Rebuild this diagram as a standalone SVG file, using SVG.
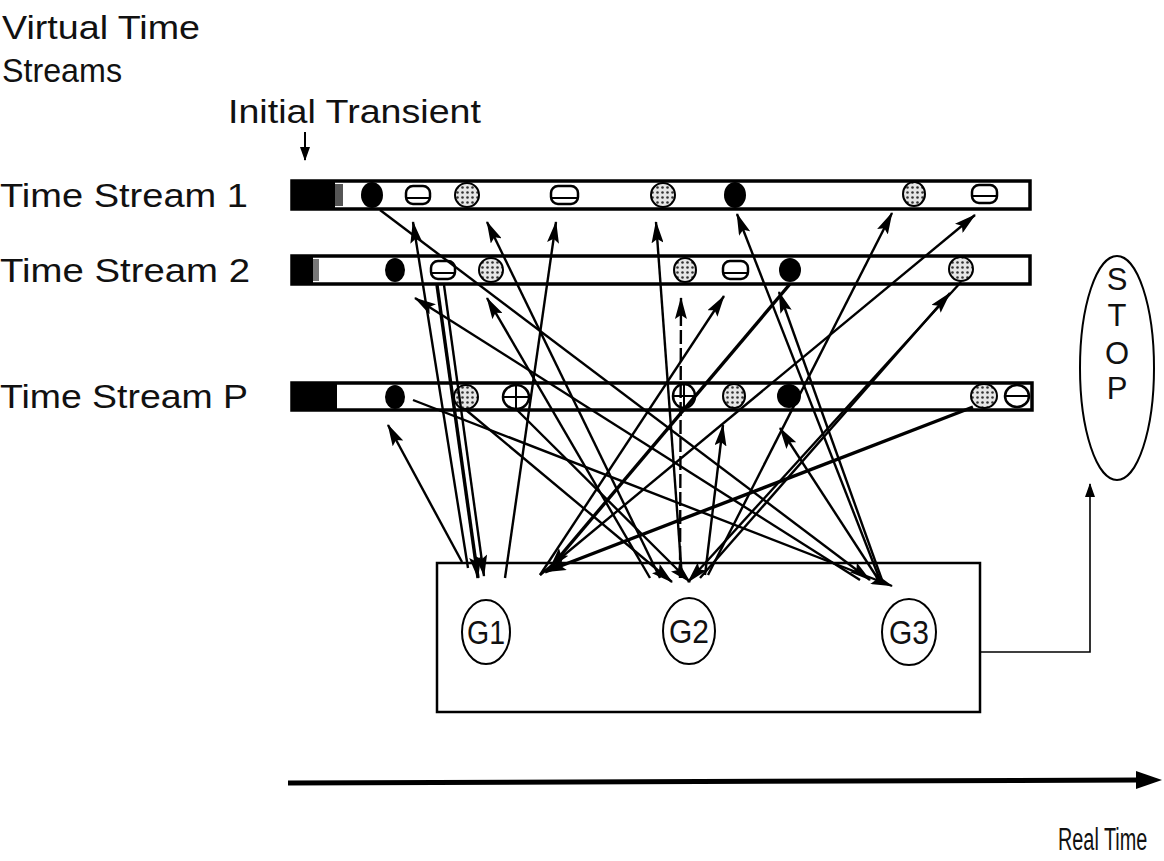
<svg xmlns="http://www.w3.org/2000/svg" width="1164" height="861" viewBox="0 0 1164 861">
<style>
text{font-family:"Liberation Sans",Arial,sans-serif;fill:#111}
.lbl{font-size:33px}
.bar{fill:#fff;stroke:#000;stroke-width:3.5}
.blk{fill:#000}
.hat{fill:#fff;stroke:#000;stroke-width:2.5}
.dot{fill:url(#dots);stroke:#000;stroke-width:2}
.c{fill:none;stroke:#000;stroke-width:2.4;marker-end:url(#ah)}
.ct{fill:none;stroke:#000;stroke-width:3.4;marker-end:url(#ah)}
.thin{fill:none;stroke:#000;stroke-width:1.6}
.node{fill:#fff;stroke:#000;stroke-width:2}
</style>
<defs>
<marker id="ah" markerUnits="userSpaceOnUse" markerWidth="22" markerHeight="12" refX="21" refY="6" orient="auto">
<path d="M0,0 L22,6 L0,12 L4,6 z" fill="#000"/>
</marker>
<marker id="ahs" markerUnits="userSpaceOnUse" markerWidth="14" markerHeight="10" refX="13" refY="5" orient="auto">
<path d="M0,0 L14,5 L0,10 z" fill="#000"/>
</marker>
<pattern id="dots" width="5" height="5" patternUnits="userSpaceOnUse">
<rect width="5" height="5" fill="#e6e6e6"/>
<circle cx="2.5" cy="2.5" r="1.3" fill="#333"/>
</pattern>
</defs>
<rect width="1164" height="861" fill="#fff"/>

<g id="titles">
<text class="lbl" x="2" y="39" font-size="34" textLength="198" lengthAdjust="spacingAndGlyphs">Virtual Time</text>
<text class="lbl" x="2" y="82" font-size="34" textLength="120" lengthAdjust="spacingAndGlyphs">Streams</text>
<text class="lbl" x="228" y="123" font-size="32" textLength="253" lengthAdjust="spacingAndGlyphs">Initial Transient</text>
<line x1="305" y1="132" x2="305" y2="160" stroke="#000" stroke-width="2" marker-end="url(#ahs)"/>
</g>

<g id="stream1">
<text class="lbl" x="0" y="207" textLength="248" lengthAdjust="spacingAndGlyphs">Time Stream 1</text>
<rect class="bar" x="292" y="181" width="738" height="28"/>
<rect class="blk" x="293" y="181" width="42" height="28"/>
<rect x="335" y="184" width="8" height="22" fill="#555"/>
<ellipse class="blk" cx="372" cy="195" rx="11" ry="13"/>
<rect class="hat" x="406" y="186" width="24" height="18" rx="7"/><line x1="407" y1="198" x2="429" y2="198" stroke="#000" stroke-width="2"/>
<ellipse class="dot" cx="467" cy="195" rx="12" ry="12"/>
<rect class="hat" x="551" y="186" width="27" height="18" rx="7"/><line x1="552" y1="198" x2="577" y2="198" stroke="#000" stroke-width="2"/>
<ellipse class="dot" cx="663" cy="195" rx="12" ry="12"/>
<ellipse class="blk" cx="735" cy="195" rx="11" ry="13"/>
<ellipse class="dot" cx="914" cy="194" rx="11" ry="12"/>
<rect class="hat" x="972" y="185" width="25" height="18" rx="7"/><line x1="973" y1="196" x2="996" y2="196" stroke="#000" stroke-width="2"/>
</g>

<g id="stream2">
<text class="lbl" x="0" y="282" textLength="250" lengthAdjust="spacingAndGlyphs">Time Stream 2</text>
<rect class="bar" x="292" y="256" width="738" height="28"/>
<rect class="blk" x="293" y="256" width="20" height="28"/>
<rect x="313" y="259" width="6" height="22" fill="#777"/>
<ellipse class="blk" cx="395" cy="270" rx="10" ry="12"/>
<rect class="hat" x="431" y="261" width="24" height="18" rx="7"/><line x1="432" y1="273" x2="454" y2="273" stroke="#000" stroke-width="2"/>
<ellipse class="dot" cx="491" cy="270" rx="12" ry="12"/>
<ellipse class="dot" cx="685" cy="270" rx="11" ry="12"/>
<rect class="hat" x="723" y="261" width="25" height="18" rx="7"/><line x1="724" y1="273" x2="747" y2="273" stroke="#000" stroke-width="2"/>
<ellipse class="blk" cx="790" cy="270" rx="11" ry="12"/>
<ellipse class="dot" cx="961" cy="269" rx="12" ry="12"/>
</g>

<g id="streamP">
<text class="lbl" x="0" y="408" textLength="248" lengthAdjust="spacingAndGlyphs">Time Stream P</text>
<rect class="bar" x="292" y="383" width="740" height="27"/>
<rect class="blk" x="293" y="383" width="44" height="27"/>
<ellipse class="blk" cx="395" cy="397" rx="10" ry="12"/>
<ellipse class="dot" cx="466" cy="397" rx="12" ry="12"/>
<ellipse class="hat" cx="516" cy="397" rx="13" ry="12"/><line x1="503" y1="397" x2="529" y2="397" stroke="#000" stroke-width="2"/><line x1="516" y1="385" x2="516" y2="409" stroke="#000" stroke-width="2"/>
<ellipse class="hat" cx="684" cy="396" rx="11" ry="12"/><line x1="673" y1="396" x2="695" y2="396" stroke="#000" stroke-width="2"/><line x1="684" y1="384" x2="684" y2="408" stroke="#000" stroke-width="2"/>
<ellipse class="dot" cx="734" cy="396" rx="11" ry="12"/>
<ellipse class="blk" cx="789" cy="396" rx="12" ry="12"/>
<ellipse class="dot" cx="984" cy="396" rx="13" ry="12"/>
<ellipse class="hat" cx="1017" cy="396" rx="12" ry="11"/><line x1="1005" y1="396" x2="1029" y2="396" stroke="#000" stroke-width="2"/>
</g>

<g id="connectors">
<line class="c" x1="468" y1="568" x2="413" y2="222"/>
<line class="c" x1="660" y1="578" x2="487" y2="222"/>
<line class="c" x1="505" y1="578" x2="556" y2="222"/>
<line class="c" x1="682" y1="578" x2="656" y2="222"/>
<line class="c" x1="880" y1="580" x2="737" y2="214"/>
<line class="c" x1="708" y1="575" x2="892" y2="213"/>
<line class="c" x1="540" y1="575" x2="975" y2="215"/>
<line class="c" x1="860" y1="580" x2="415" y2="298"/>
<line class="c" x1="650" y1="578" x2="487" y2="298"/>
<line class="c" x1="680" y1="578" x2="681" y2="298" stroke-dasharray="14 4"/>
<line class="c" x1="540" y1="575" x2="724" y2="296"/>
<line class="c" x1="700" y1="578" x2="950" y2="293"/>
<line class="c" x1="882" y1="580" x2="779" y2="292"/>
<line class="c" x1="462" y1="562" x2="388" y2="425"/>
<line class="c" x1="705" y1="575" x2="723" y2="425"/>
<line class="c" x1="880" y1="582" x2="780" y2="428"/>
<line class="c" x1="380" y1="210" x2="870" y2="580"/>
<line class="ct" x1="437" y1="285" x2="478" y2="578"/>
<line class="c" x1="444" y1="285" x2="484" y2="576"/>
<line class="c" x1="413" y1="400" x2="892" y2="586"/>
<line class="ct" x1="973" y1="407" x2="545" y2="572"/>
<line class="c" x1="466" y1="410" x2="672" y2="582"/>
<line class="ct" x1="790" y1="284" x2="550" y2="568"/>
<line class="c" x1="516" y1="409" x2="690" y2="582"/>
<line class="c" x1="961" y1="282" x2="688" y2="582"/>
<polyline class="thin" points="981,652 1090,652 1090,484" marker-end="url(#ahs)"/>
<line x1="288" y1="783" x2="1140" y2="780" stroke="#000" stroke-width="5"/>
<path d="M1136,771 L1162,780 L1136,789 z" fill="#000"/>
</g>

<g id="box">
<rect x="437" y="563" width="543" height="149" fill="none" stroke="#000" stroke-width="2.5"/>
</g>
<g id="G1">
<ellipse class="node" cx="486" cy="632" rx="24" ry="32"/>
<text x="486" y="644" font-size="33" text-anchor="middle" textLength="38" lengthAdjust="spacingAndGlyphs">G1</text>
</g>
<g id="G2">
<ellipse class="node" cx="689" cy="631" rx="26" ry="33"/>
<text x="689" y="643" font-size="33" text-anchor="middle" textLength="40" lengthAdjust="spacingAndGlyphs">G2</text>
</g>
<g id="G3">
<ellipse class="node" cx="909" cy="632" rx="27" ry="33"/>
<text x="909" y="644" font-size="33" text-anchor="middle" textLength="40" lengthAdjust="spacingAndGlyphs">G3</text>
</g>

<g id="stop">
<ellipse cx="1117" cy="368" rx="37" ry="112" fill="none" stroke="#000" stroke-width="2"/>
<text x="1117" y="290" font-size="31" text-anchor="middle">S</text>
<text x="1117" y="326" font-size="31" text-anchor="middle">T</text>
<text x="1117" y="364" font-size="31" text-anchor="middle">O</text>
<text x="1117" y="399" font-size="31" text-anchor="middle">P</text>
</g>

<g id="realtime">
<text transform="translate(1058,850) scale(0.64,1)" x="0" y="0" font-size="31">Real Time</text>
</g>
</svg>
